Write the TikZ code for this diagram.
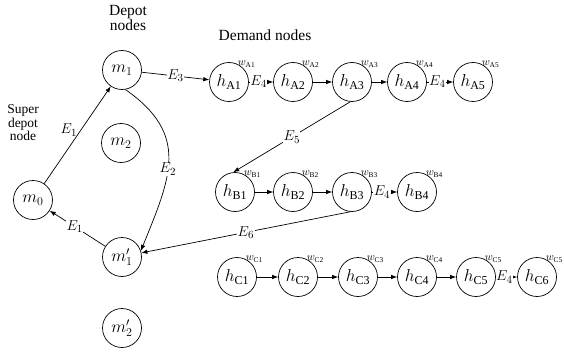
\documentclass[tikz,border=0pt]{standalone}
\usepackage{fontspec}
\setmainfont{Liberation Serif}
\usepackage{amsmath}
\usetikzlibrary{positioning, arrows.meta}

\begin{document}
\begin{tikzpicture}[
    x=1pt, y=1pt,
    every node/.style={align=center},
    nodo/.style={circle, draw, line width=0.7pt, minimum size=39pt, inner sep=0pt, font=\LARGE},
    texto/.style={font=\fontsize{15.5}{15}\selectfont},
    wlab/.style={font=\fontsize{10.5}{10.5}\selectfont, inner sep=0.5pt, label distance=-3.5pt},
    elab/.style={font=\fontsize{15.5}{15.5}\selectfont, fill=white, inner sep=0.5pt},
    arrow/.style={-{Latex[length=6pt, width=4.5pt]}, line width=0.7pt}
]
\useasboundingbox (0,0) rectangle (564,354);

% --- Textos
\node[texto] (t_depot) at (128,336) {Depot\\nodes};
\node[font=\fontsize{13.5}{13.5}\selectfont] (t_super) at (23,231) {Super\\depot\\node};
\node[texto] (t_demand) at (265,319) {Demand nodes};

% --- Nodos deposito
\node[nodo] (m0) at (33,154) {$m_0$};
\node[nodo] (m1) at (122,284) {$m_1$};
\node[nodo] (m2) at (121,211) {$m_2$};
\node[nodo] (m1p) at (122,97) {$m_1'$};
\node[nodo] (m2p) at (122,26) {$m_2'$};

% --- Nodos de demanda, fila A
\node[nodo, label={[wlab]60:$w_{\mathrm{A1}}$}] (hA1) at (229,272) {$h_{\mathrm{A1}}$};
\node[nodo, label={[wlab]60:$w_{\mathrm{A2}}$}] (hA2) at (293,272) {$h_{\mathrm{A2}}$};
\node[nodo, label={[wlab]60:$w_{\mathrm{A3}}$}] (hA3) at (352,272) {$h_{\mathrm{A3}}$};
\node[nodo, label={[wlab]60:$w_{\mathrm{A4}}$}] (hA4) at (407,272) {$h_{\mathrm{A4}}$};
\node[nodo, label={[wlab]60:$w_{\mathrm{A5}}$}] (hA5) at (473,272) {$h_{\mathrm{A5}}$};

% --- Fila B
\node[nodo, label={[wlab]60:$w_{\mathrm{B1}}$}] (hB1) at (235,162) {$h_{\mathrm{B1}}$};
\node[nodo, label={[wlab]60:$w_{\mathrm{B2}}$}] (hB2) at (293,162) {$h_{\mathrm{B2}}$};
\node[nodo, label={[wlab]60:$w_{\mathrm{B3}}$}] (hB3) at (352,162) {$h_{\mathrm{B3}}$};
\node[nodo, label={[wlab]60:$w_{\mathrm{B4}}$}] (hB4) at (417,162) {$h_{\mathrm{B4}}$};

% --- Fila C
\node[nodo, label={[wlab]60:$w_{\mathrm{C1}}$}] (hC1) at (237,77) {$h_{\mathrm{C1}}$};
\node[nodo, label={[wlab]60:$w_{\mathrm{C2}}$}] (hC2) at (298,77) {$h_{\mathrm{C2}}$};
\node[nodo, label={[wlab]60:$w_{\mathrm{C3}}$}] (hC3) at (358,77) {$h_{\mathrm{C3}}$};
\node[nodo, label={[wlab]60:$w_{\mathrm{C4}}$}] (hC4) at (417,77) {$h_{\mathrm{C4}}$};
\node[nodo, label={[wlab]60:$w_{\mathrm{C5}}$}] (hC5) at (476,77) {$h_{\mathrm{C5}}$};
\node[nodo, label={[wlab]60:$w_{\mathrm{C5}}$}] (hC6) at (537,77) {$h_{\mathrm{C6}}$};

% --- Flechas deposito
\draw[arrow] (m0) -- node[pos=0.55, left, font=\fontsize{15.5}{15.5}\selectfont] {$E_1$} (m1);
\draw[arrow] (m1p) -- node[elab, pos=0.55] {$E_1$} (m0);
\draw[arrow] (m1.-80) to[out=-35, in=68, looseness=1.25] node[elab, pos=0.56] {$E_2$} (m1p.18);
\draw[arrow] (m1) -- node[elab] {$E_3$} (hA1);

% --- Flechas fila A
\draw[arrow] (hA1) -- node[elab, pos=0.4] {$E_4$} (hA2);
\draw[arrow] (hA2) -- (hA3);
\draw[arrow] (hA3) -- (hA4);
\draw[arrow] (hA4) -- node[elab, pos=0.4] {$E_4$} (hA5);
\draw[arrow] (hA3.-95) -- node[elab] {$E_5$} (hB1.95);

% --- Flechas fila B
\draw[arrow] (hB1) -- (hB2);
\draw[arrow] (hB2) -- (hB3);
\draw[arrow] (hB3) -- node[elab, pos=0.4] {$E_4$} (hB4);
\draw[arrow] (hB3.265) -- node[elab] {$E_6$} (m1p.12);

% --- Flechas fila C
\draw[arrow] (hC1) -- (hC2);
\draw[arrow] (hC2) -- (hC3);
\draw[arrow] (hC3) -- (hC4);
\draw[arrow] (hC4) -- (hC5);
\draw[arrow] (hC5) -- node[elab, pos=0.4] {$E_4$} (hC6);

\end{tikzpicture}
\end{document}
